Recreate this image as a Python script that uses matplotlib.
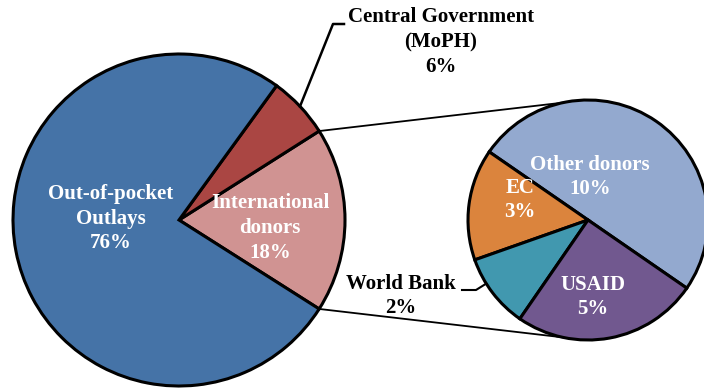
import numpy as np
import matplotlib.pyplot as plt

plt.rcParams['font.family'] = ['Liberation Serif', 'DejaVu Serif']

# main pie
main_labels = ["International\ndonors", "Central Government\n(MoPH)", "Out-of-pocket\nOutlays"]
main_values = [18, 6, 76]
main_colors = ["#D09392", "#AA4643", "#4573A7"]

# donors breakdown
donor_labels = ["Other donors", "EC", "World Bank", "USAID"]
donor_values = [10, 3, 2, 5]
donor_colors = ["#93A9CF", "#DB843D", "#4198AF", "#71588F"]

W, H = 704, 388
fig = plt.figure(figsize=(W / 100, H / 100), dpi=100)
ax = fig.add_axes([0, 0, 1, 1])

c1, r1 = (179, 168), 166
c2, r2 = (588, 168), 120

start1 = -main_values[0] / 100 * 360 / 2
ax.pie(main_values, colors=main_colors, startangle=start1, counterclock=True,
       center=c1, radius=r1, frame=True,
       wedgeprops=dict(edgecolor="black", linewidth=2.2))
ax.pie(donor_values, colors=donor_colors, startangle=-34.6, counterclock=True,
       center=c2, radius=r2, frame=True,
       wedgeprops=dict(edgecolor="black", linewidth=2.2))
ax.set_xlim(0, W)
ax.set_ylim(0, H)
ax.set_aspect("equal")
ax.axis("off")

# connector lines between the two pies
a_top = np.deg2rad(start1 + main_values[0] / 100 * 360)
a_bot = np.deg2rad(start1)
p_top = (c1[0] + r1 * np.cos(a_top), c1[1] + r1 * np.sin(a_top))
p_bot = (c1[0] + r1 * np.cos(a_bot), c1[1] + r1 * np.sin(a_bot))
q_top = (c2[0] + r2 * np.cos(np.deg2rad(102)), c2[1] + r2 * np.sin(np.deg2rad(102)))
q_bot = (c2[0] + r2 * np.cos(np.deg2rad(258)), c2[1] + r2 * np.sin(np.deg2rad(258)))
ax.plot([p_top[0], q_top[0]], [p_top[1], q_top[1]], color="black", lw=1.3, zorder=0)
ax.plot([p_bot[0], q_bot[0]], [p_bot[1], q_bot[1]], color="black", lw=1.3, zorder=0)

fs = 15
white = dict(color="white", fontsize=fs, fontweight="bold", ha="center", va="center",
             linespacing=1.3)
black = dict(color="black", fontsize=fs, fontweight="bold", ha="center", va="center",
             linespacing=1.3)

ax.text(111, H - 219, f"{main_labels[2]}\n{main_values[2]}%", **white)
ax.text(270, H - 228, f"{main_labels[0]}\n{main_values[0]}%", **white)
ax.text(441, H - 42, f"{main_labels[1]}\n{main_values[1]}%", **black)

ax.text(590, H - 177, f"{donor_labels[0]}\n{donor_values[0]}%", **white)
ax.text(520, H - 200, f"{donor_labels[1]}\n{donor_values[1]}%", **white)
ax.text(593, H - 297, f"{donor_labels[3]}\n{donor_values[3]}%", **white)
ax.text(401, H - 296, f"{donor_labels[2]}\n{donor_values[2]}%", **black)

# leader lines
a_cg = np.deg2rad(start1 + (main_values[0] + main_values[1] / 2) / 100 * 360)
pc = (c1[0] + r1 * np.cos(a_cg), c1[1] + r1 * np.sin(a_cg))
ax.plot([pc[0], 333, 344], [pc[1], H - 24, H - 24], color="black", lw=1.8)

wb_start = -34.6 + (donor_values[0] + donor_values[1]) / sum(donor_values) * 360
a_wb = np.deg2rad(wb_start + 0.35 * donor_values[2] / sum(donor_values) * 360)
pw = (c2[0] + r2 * np.cos(a_wb), c2[1] + r2 * np.sin(a_wb))
ax.plot([462, 476, pw[0]], [H - 290, H - 290, pw[1]], color="black", lw=1.5)

fig.savefig("out.png", dpi=100)
